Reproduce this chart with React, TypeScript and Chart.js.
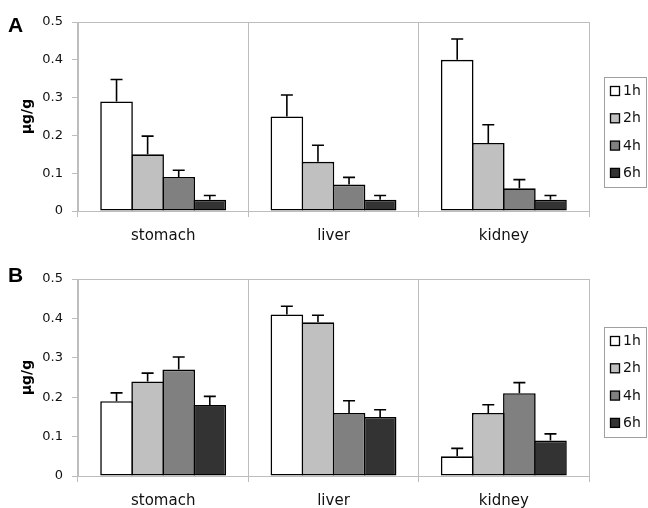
import React, { useEffect, useRef } from 'react';
import { Chart, registerables } from 'chart.js';
Chart.register(...registerables);

const categories = ['stomach', 'liver', 'kidney'];
const seriesLabels = ['1h', '2h', '4h', '6h'];
const seriesColors = ['#ffffff', '#c0c0c0', '#808080', '#333333'];
const yTicks = [0, 0.1, 0.2, 0.3, 0.4, 0.5];

// Panel A values and upper error bars
const a1h = [0.29, 0.25, 0.4];
const a2h = [0.15, 0.13, 0.18];
const a4h = [0.09, 0.07, 0.06];
const a6h = [0.03, 0.03, 0.03];
const a1hErr = [0.058, 0.057, 0.055];
const a2hErr = [0.048, 0.044, 0.048];
const a4hErr = [0.018, 0.019, 0.023];
const a6hErr = [0.011, 0.011, 0.011];

// Panel B values and upper error bars
const b1h = [0.19, 0.41, 0.05];
const b2h = [0.24, 0.39, 0.16];
const b4h = [0.27, 0.16, 0.21];
const b6h = [0.18, 0.15, 0.09];
const b1hErr = [0.021, 0.021, 0.02];
const b2hErr = [0.021, 0.018, 0.021];
const b4hErr = [0.032, 0.031, 0.027];
const b6hErr = [0.022, 0.018, 0.017];

const FONT = "'DejaVu Sans', 'Liberation Sans', Arial, sans-serif";
const GRID = '#bdbdbd';

const errorBarPlugin = {
  id: 'errorBars',
  afterDatasetsDraw(chart: any) {
    const ctx = chart.ctx;
    const y = chart.scales.y;
    ctx.save();
    ctx.strokeStyle = '#000';
    ctx.lineWidth = 1.6;
    chart.data.datasets.forEach((ds: any, di: number) => {
      const meta = chart.getDatasetMeta(di);
      meta.data.forEach((bar: any, i: number) => {
        const v = ds.data[i];
        const e = ds.errors[i];
        const top = y.getPixelForValue(v + e);
        ctx.beginPath();
        ctx.moveTo(bar.x, bar.y);
        ctx.lineTo(bar.x, top);
        ctx.moveTo(bar.x - 6, top);
        ctx.lineTo(bar.x + 6, top);
        ctx.stroke();
      });
    });
    ctx.restore();
  },
};

const legendPlugin = {
  id: 'boxLegend',
  afterDraw(chart: any) {
    const ctx = chart.ctx;
    ctx.save();
    ctx.strokeStyle = '#a0a0a0';
    ctx.lineWidth = 1;
    ctx.strokeRect(604.5, 77.5, 42, 110);
    ctx.font = `14px ${FONT}`;
    ctx.textBaseline = 'middle';
    ctx.textAlign = 'left';
    chart.data.datasets.forEach((ds: any, i: number) => {
      const cy = 91 + i * 27.3;
      ctx.fillStyle = ds.backgroundColor;
      ctx.fillRect(610.5, cy - 4.5, 9, 9);
      ctx.strokeStyle = '#000';
      ctx.lineWidth = 1.3;
      ctx.strokeRect(610.5, cy - 4.5, 9, 9);
      ctx.fillStyle = '#111';
      ctx.fillText(ds.label, 623, cy + 0.5);
    });
    ctx.restore();
  },
};

const letterPlugin = {
  id: 'panelLetter',
  afterDraw(chart: any) {
    const ctx = chart.ctx;
    const letter = chart.options.plugins.panelLetter.text;
    ctx.save();
    ctx.font = `bold 21px 'Liberation Sans', Arial, sans-serif`;
    ctx.fillStyle = '#000';
    ctx.textBaseline = 'alphabetic';
    ctx.textAlign = 'left';
    ctx.fillText(letter, 8, 32);
    ctx.restore();
  },
};

function Panel(props: {
  letter: string;
  values: number[][];
  errors: number[][];
  height: number;
  padTop: number;
  xHeight: number;
  top: number;
}) {
  const ref = useRef<HTMLCanvasElement>(null);
  useEffect(() => {
    if (!ref.current) return;
    const chart = new Chart(ref.current, {
      type: 'bar',
      data: {
        labels: categories,
        datasets: seriesLabels.map((l, i) => ({
          label: l,
          data: props.values[i],
          errors: props.errors[i],
          backgroundColor: seriesColors[i],
          borderColor: '#000',
          borderWidth: 1.6,
          borderSkipped: false,
          categoryPercentage: 0.73,
          barPercentage: 1.05,
        })) as any,
      },
      options: {
        animation: false,
        responsive: false,
        maintainAspectRatio: false,
        layout: { padding: { left: 0, right: 59, top: props.padTop, bottom: 0 } },
        plugins: {
          legend: { display: false },
          tooltip: { enabled: false },
          panelLetter: { text: props.letter },
        } as any,
        scales: {
          x: {
            afterFit: (s: any) => {
              s.height = props.xHeight;
            },
            grid: {
              offset: true,
              color: GRID,
              tickColor: GRID,
              tickLength: 6,
              lineWidth: 1,
            },
            border: { color: GRID },
            ticks: {
              font: { family: FONT, size: 15 },
              color: '#111',
              padding: 10,
            },
          },
          y: {
            min: 0,
            max: 0.5,
            afterFit: (s: any) => {
              s.width = 78;
            },
            afterBuildTicks: (s: any) => {
              s.ticks = yTicks.map((v) => ({ value: v }));
            },
            grid: {
              color: (c: any) => (c.tick && c.tick.value === 0.5 ? GRID : 'rgba(0,0,0,0)'),
              tickColor: GRID,
              tickLength: 6,
            },
            border: { color: GRID },
            ticks: {
              font: { family: FONT, size: 13 },
              color: '#111',
              padding: 9,
              callback: (v: any) => (v === 0 ? '0' : Number(v).toFixed(1)),
            },
            title: {
              display: true,
              text: 'µg/g',
              font: { family: FONT, size: 14, weight: 'bold' },
              color: '#000',
              padding: { top: 19, bottom: 0 },
            },
          },
        },
      },
      plugins: [errorBarPlugin, legendPlugin, letterPlugin],
    });
    return () => chart.destroy();
  }, []);
  return (
    <canvas
      ref={ref}
      width={648}
      height={props.height}
      style={{ position: 'absolute', left: 0, top: props.top, width: 648, height: props.height }}
    />
  );
}

export default function App() {
  return (
    <div style={{ position: 'absolute', left: 0, top: 0, width: 648, height: 508, background: '#fff' }}>
      <Panel
        letter="A"
        values={[a1h, a2h, a4h, a6h]}
        errors={[a1hErr, a2hErr, a4hErr, a6hErr]}
        height={250}
        padTop={22}
        xHeight={39}
        top={0}
      />
      <Panel
        letter="B"
        values={[b1h, b2h, b4h, b6h]}
        errors={[b1hErr, b2hErr, b4hErr, b6hErr]}
        height={258}
        padTop={29}
        xHeight={32}
        top={250}
      />
    </div>
  );
}
